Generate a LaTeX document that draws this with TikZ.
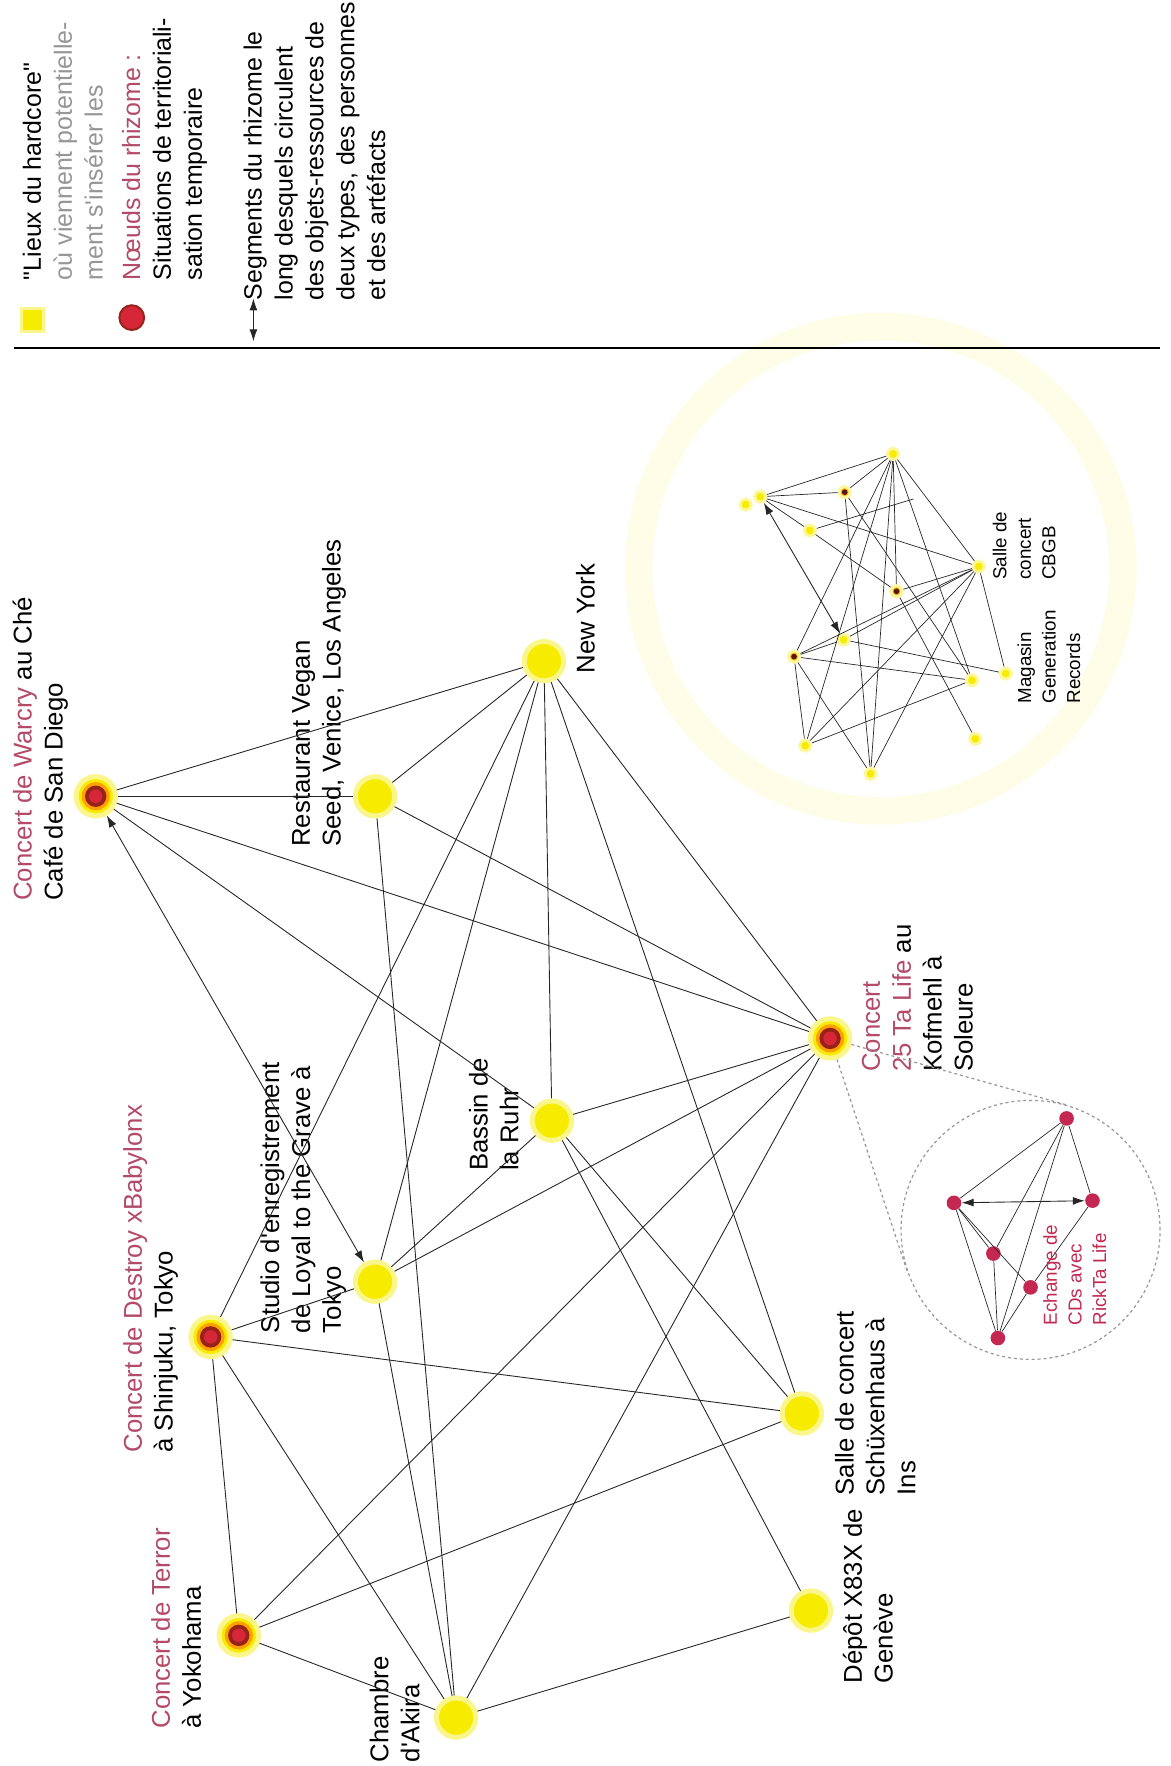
\documentclass[tikz,border=0pt]{standalone}
\usepackage{fontspec}
\setmainfont{Liberation Sans}
\usetikzlibrary{arrows.meta,backgrounds,calc}

\definecolor{jaune}{RGB}{247,236,0}
\definecolor{rouge}{RGB}{214,38,56}
\definecolor{brun}{RGB}{150,35,25}
\definecolor{rose}{RGB}{178,74,104}
\definecolor{gris}{RGB}{150,150,150}
\definecolor{framboise}{RGB}{196,40,82}

\newcommand{\etiqfont}{\fontsize{13}{15.6}\selectfont}
\newcommand{\legfont}{\fontsize{12.6}{15.6}\selectfont}
\newcommand{\petitfont}{\fontsize{9.5}{12.4}\selectfont}

\begin{document}
\begin{tikzpicture}[
                x=0.02cm, y=-0.02cm,
                lieu/.style={shape=circle, fill=jaune, draw=jaune!45, line width=2.5pt, minimum size=0.7cm, inner sep=0pt},
                noeud/.style={lieu, path picture={
                    \fill[orange!70!jaune] (path picture bounding box.center) circle (0.25cm);
                    \fill[brun] (path picture bounding box.center) circle (0.19cm);
                    \fill[rouge] (path picture bounding box.center) circle (0.12cm);}},
                petit/.style={shape=circle, fill=jaune, draw=jaune!40, line width=1.5pt, minimum size=0.2cm, inner sep=0pt},
                sombre/.style={petit, fill=orange!60!jaune, path picture={
                    \fill[brun!60!black] (path picture bounding box.center) circle (0.05cm);}},
                rubis/.style={shape=circle, fill=framboise, minimum size=0.26cm, inner sep=0pt},
                trait/.style={black!85, line width=0.45pt},
                fin/.style={black!85, line width=0.35pt},
                fleche/.style={trait, <->, >={Latex[length=6pt,width=4pt]}},
                pointille/.style={gris, line width=0.6pt, dash pattern=on 1.5pt off 1.5pt},
                etiq/.style={rotate=90, anchor=north west, align=left, inner sep=0pt, font=\etiqfont},
                legende/.style={etiq, font=\legfont},
                mini/.style={etiq, font=\petitfont},
            ]
            \useasboundingbox (0,0) rectangle (1039,1568);

            % legende
            \node[fill=jaune, draw=jaune!45, line width=1.5pt, minimum size=0.4cm, inner sep=0pt] (lgjaune) at (29,284) {};
            \node[shape=circle, fill=rouge, draw=brun, line width=1pt, minimum size=0.44cm] (lgrouge) at (117,282) {};
            \coordinate (lghaut) at (225,265);
            \coordinate (lgbas) at (225,303);
            \draw[fleche] (lghaut) -- (lgbas);
            \node[legende] (lglieux) at (20,249) {\textquotedbl Lieux du hardcore\textquotedbl\\\textcolor{gris}{où viennent potentielle-}\\\textcolor{gris}{ment s\textquotesingle insérer les}};
            \node[legende] (lgnoeuds) at (108,249) {\textcolor{rose}{Nœuds du rhizome :}\\Situations de territoriali-\\sation temporaire};
            \node[legende] (lgsegments) at (216,267) {Segments du rhizome le\\long desquels circulent\\des objets-ressources de\\deux types, des personnes\\et des artéfacts};
            \coordinate (traitg) at (12,309);
            \coordinate (traitd) at (1030,309);
            \draw[line width=1pt] (traitg) -- (traitd);

            % halo autour de New York
            \begin{scope}[on background layer]
                \draw[jaune!9, line width=14pt] (782,505) circle (4.3cm);
            \end{scope}

            % lieux et noeuds
            \node[noeud] (warcry) at (85,707) {};
            \node[lieu] (vegan) at (333,707) {};
            \node[lieu] (newyork) at (483,587) {};
            \node[lieu] (ruhr) at (490,995) {};
            \node[lieu] (studio) at (333,1138) {};
            \node[noeud] (destroy) at (187,1187) {};
            \node[noeud] (terror) at (212,1452) {};
            \node[lieu] (akira) at (405,1525) {};
            \node[noeud] (talife) at (737,922) {};
            \node[lieu] (schux) at (712,1255) {};
            \node[lieu] (geneve) at (720,1430) {};

            \node[etiq] (lbwarcry) at (11,800) {\textcolor{rose}{Concert de Warcry} au Ché\\Café de San Diego};
            \node[etiq] (lbvegan) at (259,752) {Restaurant Vegan\\Seed, Venice, Los Angeles};
            \node[etiq] (lbny) at (511,598) {New York};
            \node[etiq] (lbdestroy) at (109,1290) {\textcolor{rose}{Concert de Destroy xBabylonx}\\à Shinjuku, Tokyo};
            \node[etiq] (lbstudio) at (231,1184) {Studio d\textquotesingle enregistrement\\de Loyal to the Grave à\\Tokyo};
            \node[etiq] (lbruhr) at (416,1040) {Bassin de\\la Ruhr};
            \node[etiq] (lbterror) at (134,1535) {\textcolor{rose}{Concert de Terror}\\à Yokohama};
            \node[etiq] (lbakira) at (328,1565) {Chambre\\d\textquotesingle Akira};
            \node[etiq] (lbtalife) at (765,952) {\textcolor{rose}{Concert}\\\textcolor{rose}{25 Ta Life} au\\Kofmehl à\\Soleure};
            \node[etiq] (lbschux) at (741,1328) {Salle de concert\\Schüxenhaus à\\Ins};
            \node[etiq] (lbgeneve) at (748,1495) {Dépôt X83X de\\Genève};

            \draw[trait] (warcry) -- (newyork);
            \draw[trait] (warcry) -- (vegan);
            \draw[trait] (warcry) -- (talife);
            \draw[trait] (warcry) -- (ruhr);
            \draw[fleche] (warcry) -- (studio);
            \draw[trait] (vegan) -- (newyork);
            \draw[trait] (vegan) -- (talife);
            \draw[trait] (vegan) -- (akira);
            \draw[trait] (newyork) -- (destroy);
            \draw[trait] (newyork) -- (studio);
            \draw[trait] (newyork) -- (ruhr);
            \draw[trait] (newyork) -- (schux);
            \draw[trait] (newyork) -- (talife);
            \draw[trait] (ruhr) -- (studio);
            \draw[trait] (ruhr) -- (talife);
            \draw[trait] (ruhr) -- (schux);
            \draw[trait] (ruhr) -- (geneve);
            \draw[trait] (studio) -- (destroy);
            \draw[trait] (studio) -- (talife);
            \draw[trait] (studio) -- (akira);
            \draw[trait] (destroy) -- (schux);
            \draw[trait] (destroy) -- (terror);
            \draw[trait] (destroy) -- (akira);
            \draw[trait] (terror) -- (talife);
            \draw[trait] (terror) -- (schux);
            \draw[trait] (terror) -- (akira);
            \draw[trait] (talife) -- (akira);
            \draw[trait] (geneve) -- (akira);

            % zoom sur Ta Life
            \node[shape=circle, pointille, draw, minimum size=4.6cm] (loupe) at (915,1092) {};
            \draw[pointille] (talife) -- (tangent cs:node=loupe,point={(talife)},solution=1);
            \draw[pointille] (talife) -- (tangent cs:node=loupe,point={(talife)},solution=2);
            \node[rubis] (r1) at (947,993) {};
            \node[rubis] (r2) at (847,1068) {};
            \node[rubis] (r3) at (970,1066) {};
            \node[rubis] (r4) at (882,1113) {};
            \node[rubis] (r5) at (915,1143) {};
            \node[rubis] (r6) at (886,1188) {};
            \draw[fin] (r1) -- (r2);
            \draw[fin] (r1) -- (r3);
            \draw[fin] (r1) -- (r4);
            \draw[fin] (r1) -- (r6);
            \draw[fleche] (r2) -- (r3);
            \draw[fin] (r2) -- (r4);
            \draw[fin] (r2) -- (r5);
            \draw[fin] (r2) -- (r6);
            \draw[fin] (r4) -- (r6);
            \draw[fin] (r3) -- (r5);
            \draw[fin] (r5) -- (r6);
            \node[mini, text=framboise] (lbechange) at (926,1177) {Echange de\\CDs avec\\RickTa Life};

            % zoom sur New York
            \node[petit] (j1) at (793,403) {};
            \node[petit] (j2) at (675,441) {};
            \node[petit] (j2b) at (662,448) {};
            \node[sombre] (j3) at (750,437) {};
            \node[petit] (j4) at (719,471) {};
            \node[petit] (j5) at (869,503) {};
            \node[sombre] (j6) at (796,525) {};
            \node[petit] (j7) at (749,568) {};
            \node[sombre] (j8) at (705,583) {};
            \node[petit] (j9) at (893,598) {};
            \node[petit] (j10) at (863,604) {};
            \node[petit] (j11) at (715,662) {};
            \node[petit] (j12) at (866,656) {};
            \node[petit] (j13) at (773,687) {};
            \coordinate (c4) at (811,443);
            \draw[fin] (j1) -- (j2);
            \draw[fin] (j1) -- (j3);
            \draw[fin] (j1) -- (j5);
            \draw[fin] (j1) -- (j6);
            \draw[fin] (j1) -- (j8);
            \draw[fin] (j1) -- (j10);
            \draw[fin] (j1) -- (j11);
            \draw[fin] (j1) -- (j13);
            \draw[fin] (j2) -- (j3);
            \draw[fin] (j2) -- (j4);
            \draw[fin] (j2) -- (j5);
            \draw[fleche] (j2) -- (j7);
            \draw[fin] (j3) -- (j10);
            \draw[fin] (j3) -- (j13);
            \draw[fin] (j4) -- (j6);
            \draw[fin] (j4) -- (c4);
            \draw[fin] (j5) -- (j6);
            \draw[fin] (j5) -- (j7);
            \draw[fin] (j5) -- (j8);
            \draw[fin] (j5) -- (j11);
            \draw[fin] (j5) -- (j13);
            \draw[fin] (j5) -- (j9);
            \draw[fin] (j6) -- (j12);
            \draw[fin] (j7) -- (j9);
            \draw[fin] (j7) -- (j8);
            \draw[fin] (j8) -- (j10);
            \draw[fin] (j8) -- (j11);
            \draw[fin] (j8) -- (j13);
            \draw[fin] (j11) -- (j10);
            \node[mini] (lbcbgb) at (881,515) {Salle de\\concert\\CBGB};
            \node[mini] (lbmagasin) at (903,625) {Magasin\\Generation\\Records};
        \end{tikzpicture}
\end{document}
